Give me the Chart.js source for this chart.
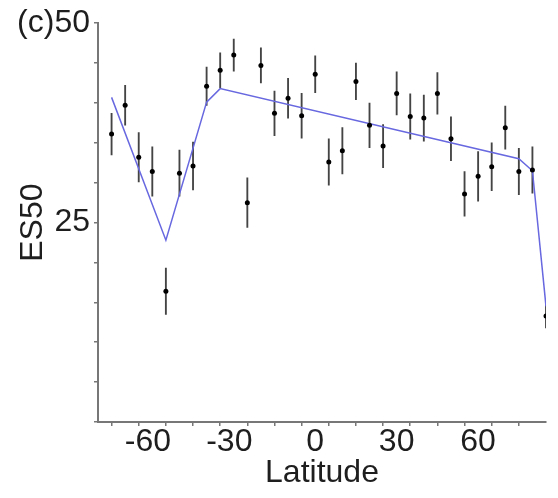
<!DOCTYPE html>
<html>
<head>
<meta charset="utf-8">
<script src="https://cdn.jsdelivr.net/npm/chart.js@4.4.1/dist/chart.umd.min.js"></script>
<style>
    html, body { margin: 0; padding: 0; background: #fff; }
    canvas { display: block; }
</style>
</head>
<body>
<canvas id="grafico" width="558" height="498"></canvas>
<script>
// ES50 by latitude band
const latitudes = [-75, -70, -65, -60, -55, -50, -45, -40, -35, -30, -25, -20, -15, -10, -5, 0,
    5, 10, 15, 20, 25, 30, 35, 40, 45, 50, 55, 60, 65, 70, 75, 80, 85];
const es50 = [36.1, 39.7, 33.2, 31.4, 16.4, 31.2, 32.1, 42.1, 44.1, 46.0, 27.5, 44.7, 38.7, 40.6, 38.4, 43.6,
    32.6, 34.0, 42.7, 37.2, 34.6, 41.2, 38.3, 38.1, 41.2, 35.5, 28.6, 30.8, 32.0, 36.9, 31.4, 31.6, 13.3];
const erro = [2.6, 2.5, 3.1, 3.1, 2.9, 2.9, 3.0, 2.4, 2.2, 2.0, 3.1, 2.2, 2.8, 2.5, 2.8, 2.3,
    2.9, 2.9, 2.3, 2.8, 2.7, 2.7, 2.85, 2.9, 2.6, 2.75, 2.8, 3.1, 3.0, 2.7, 2.9, 2.9, 1.5];

// piecewise fit (blue line)
const ajusteLat = [-75, -55, -40, -35, 75, 80, 85];
const ajusteEs50 = [40.7, 22.8, 40.1, 41.8, 33.0, 31.5, 14.5];

const rotulosX = [-60, -30, 0, 30, 60];
const rotulosY = [25, 50];

const fonte = "'Liberation Sans', Arial, sans-serif";
const corTexto = "#1e1e1e";
const corEixo = "#777";

const pontos = latitudes.map((lat, i) => ({ x: lat, y: es50[i] }));
const barras = latitudes.map((lat, i) => ({ x: lat, y: [es50[i] - erro[i], es50[i] + erro[i]] }));
const linha = ajusteLat.map((lat, i) => ({ x: lat, y: ajusteEs50[i] }));

const rotulosExtras = {
    id: "rotulosExtras",
    afterDraw(chart) {
        const { ctx, scales } = chart;
        ctx.save();
        ctx.font = "32px " + fonte;
        ctx.fillStyle = corTexto;
        ctx.textAlign = "left";
        ctx.textBaseline = "middle";
        ctx.fillText("(c)", 17, scales.y.getPixelForValue(50));
        // title of the panel above, cut by the top edge
        ctx.fillStyle = "#999";
        ctx.textAlign = "center";
        ctx.textBaseline = "alphabetic";
        ctx.fillText("Latitude", (scales.x.left + scales.x.right) / 2, 0);
        ctx.restore();
    }
};

const ctx = document.getElementById("grafico").getContext("2d");
new Chart(ctx, {
    type: "scatter",
    data: {
        datasets: [
            {
                type: "bar",
                data: barras,
                backgroundColor: "#444",
                barThickness: 1.2,
                order: 3,
            },
            {
                type: "line",
                data: linha,
                borderColor: "#6868e0",
                borderWidth: 1.5,
                pointRadius: 0,
                fill: false,
                order: 2,
            },
            {
                type: "scatter",
                data: pontos,
                backgroundColor: "#000",
                borderColor: "#000",
                pointRadius: 2.5,
                borderWidth: 0,
                order: 1,
            },
        ],
    },
    options: {
        responsive: false,
        animation: false,
        layout: { padding: { top: 22, right: 12, left: 0, bottom: 0 } },
        plugins: {
            legend: { display: false },
            tooltip: { enabled: false },
        },
        scales: {
            x: {
                type: "linear",
                min: -80,
                max: 85,
                offset: false,
                afterBuildTicks: (s) => { s.ticks = s.ticks.filter((t) => t.value % 10 === 0); },
                afterFit: (s) => { s.height = 76; },
                ticks: {
                    stepSize: 10,
                    autoSkip: false,
                    maxRotation: 0,
                    padding: -3,
                    color: corTexto,
                    font: { family: fonte, size: 32 },
                    callback: (v) => rotulosX.includes(v) ? (v < 0 ? v + " " : String(v)) : "",
                },
                grid: { drawOnChartArea: false, tickLength: 4, color: corEixo, lineWidth: 1.5 },
                border: { color: corEixo, width: 2 },
                title: {
                    display: true,
                    text: "Latitude",
                    color: corTexto,
                    font: { family: fonte, size: 32 },
                    padding: { top: 0, bottom: 6 },
                },
            },
            y: {
                type: "linear",
                min: 0,
                max: 50,
                afterFit: (s) => { s.width = 98; },
                ticks: {
                    stepSize: 5,
                    autoSkip: false,
                    padding: 4,
                    color: corTexto,
                    font: { family: fonte, size: 32 },
                    callback: (v) => rotulosY.includes(v) ? String(v) : "",
                },
                grid: { drawOnChartArea: false, tickLength: 4, color: corEixo, lineWidth: 1.5 },
                border: { color: corEixo, width: 2 },
                title: {
                    display: true,
                    text: "ES50",
                    color: corTexto,
                    font: { family: fonte, size: 32 },
                    padding: { top: 14, bottom: 0 },
                },
            },
        },
    },
    plugins: [rotulosExtras],
});
</script>
</body>
</html>
